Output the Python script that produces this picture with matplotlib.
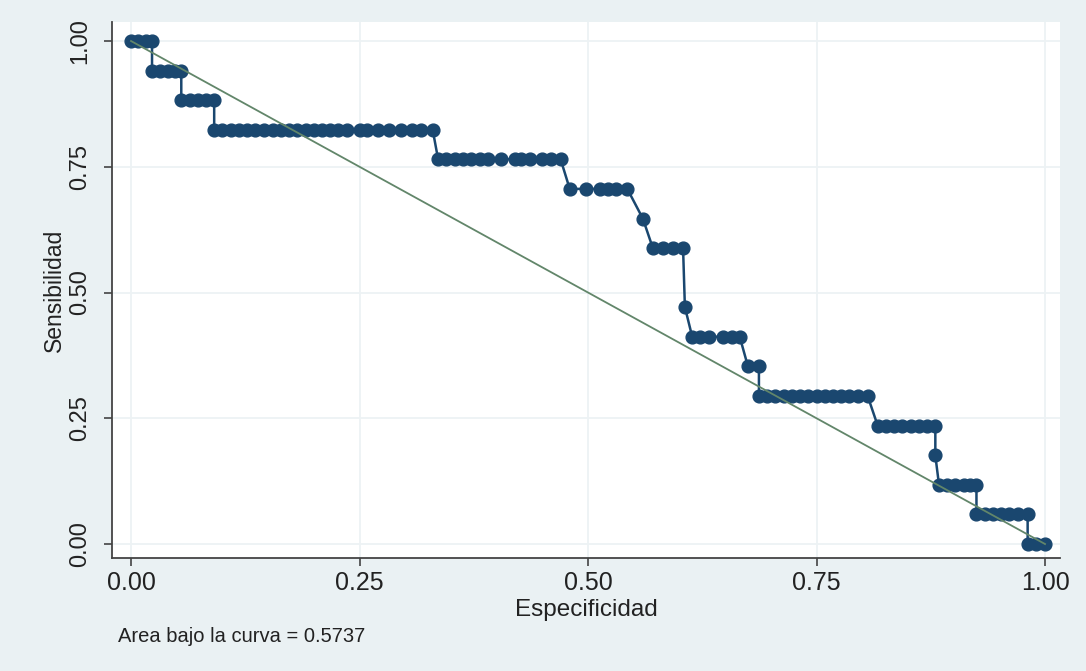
import matplotlib
matplotlib.use("Agg")
import matplotlib.pyplot as plt

# ---- data ----
sens_levels = [1.000, 0.941, 0.882, 0.824, 0.765, 0.706, 0.647, 0.588,
               0.471, 0.412, 0.353, 0.294, 0.235, 0.176, 0.118, 0.059, 0.000]
spec_1000 = [0.000, 0.008, 0.016, 0.023]
spec_0941 = [0.023, 0.032, 0.041, 0.048, 0.055]
spec_0882 = [0.055, 0.064, 0.073, 0.082, 0.091]
spec_0824 = [0.091, 0.100, 0.109, 0.118, 0.127, 0.136, 0.145, 0.155, 0.164,
             0.173, 0.182, 0.191, 0.200, 0.209, 0.218, 0.227, 0.236, 0.250,
             0.258, 0.270, 0.282, 0.295, 0.307, 0.317, 0.330]
spec_0765 = [0.336, 0.345, 0.354, 0.363, 0.372, 0.382, 0.391, 0.405, 0.420,
             0.427, 0.436, 0.450, 0.460, 0.470]
spec_0706 = [0.480, 0.498, 0.513, 0.522, 0.531, 0.543]
spec_0647 = [0.560]
spec_0588 = [0.571, 0.582, 0.593, 0.604]
spec_0471 = [0.606]
spec_0412 = [0.614, 0.623, 0.632, 0.648, 0.657, 0.666]
spec_0353 = [0.675, 0.687]
spec_0294 = [0.687, 0.696, 0.705, 0.714, 0.723, 0.732, 0.741, 0.750, 0.759,
             0.768, 0.777, 0.786, 0.795, 0.806]
spec_0235 = [0.817, 0.826, 0.835, 0.844, 0.853, 0.862, 0.871, 0.880]
spec_0176 = [0.880]
spec_0118 = [0.884, 0.893, 0.902, 0.911, 0.918, 0.925]
spec_0059 = [0.925, 0.934, 0.943, 0.952, 0.961, 0.970, 0.981]
spec_0000 = [0.981, 0.990, 1.000]
spec_groups = [spec_1000, spec_0941, spec_0882, spec_0824, spec_0765, spec_0706,
               spec_0647, spec_0588, spec_0471, spec_0412, spec_0353, spec_0294,
               spec_0235, spec_0176, spec_0118, spec_0059, spec_0000]
ref_x = [0.0, 1.0]
ref_y = [1.0, 0.0]
ticks = [0.00, 0.25, 0.50, 0.75, 1.00]
tick_labels = ["0.00", "0.25", "0.50", "0.75", "1.00"]
auc_text = "Area bajo la curva = 0.5737"

especificidad = []
sensibilidad = []
for lvl, grp in zip(sens_levels, spec_groups):
    for s in grp:
        especificidad.append(s)
        sensibilidad.append(lvl)

# ---- figure ----
plt.rcParams['font.family'] = ['Liberation Sans', 'DejaVu Sans']
W, H = 1086, 671
fig = plt.figure(figsize=(W / 100, H / 100), dpi=100, facecolor='#eaf1f3')
left, right, top, bottom = 112, 1060, 22, 558
ax = fig.add_axes([left / W, 1 - bottom / H, (right - left) / W, (bottom - top) / H])
ax.set_facecolor('white')

navy = '#1a476f'
ax.plot(especificidad, sensibilidad, color=navy, lw=1.8, marker='o',
        markersize=9.2, markerfacecolor=navy, markeredgecolor=navy, zorder=3)
ax.plot(ref_x, ref_y, color='#62866a', lw=1.3, zorder=4)

ax.set_xlim(-0.0208, 1.0164)
ax.set_ylim(-0.0278, 1.0378)
ax.set_xticks(ticks)
ax.set_xticklabels(tick_labels)
ax.set_yticks(ticks)
ax.set_yticklabels(tick_labels, rotation=90, va='center')
ax.grid(True, color='#edf2f4', lw=1.3, zorder=0)
ax.set_axisbelow(True)

for sp in ['top', 'right']:
    ax.spines[sp].set_visible(False)
for sp in ['left', 'bottom']:
    ax.spines[sp].set_color('#444444')
    ax.spines[sp].set_linewidth(1.3)
ax.tick_params(axis='both', direction='out', length=6, width=1.2, color='#444444',
               labelcolor='#222222')
ax.tick_params(axis='x', pad=3, labelsize=18)
ax.tick_params(axis='y', pad=9, labelsize=17)

ax.set_xlabel('Especificidad', fontsize=17.5, color='#222222', labelpad=3)
ax.set_ylabel('Sensibilidad', fontsize=16.5, color='#222222', labelpad=2)

fig.text(118 / W, 1 - 637 / H, auc_text, fontsize=14.5, color='#222222',
         ha='left', va='center')

fig.savefig('out.png', dpi=100, facecolor=fig.get_facecolor())
